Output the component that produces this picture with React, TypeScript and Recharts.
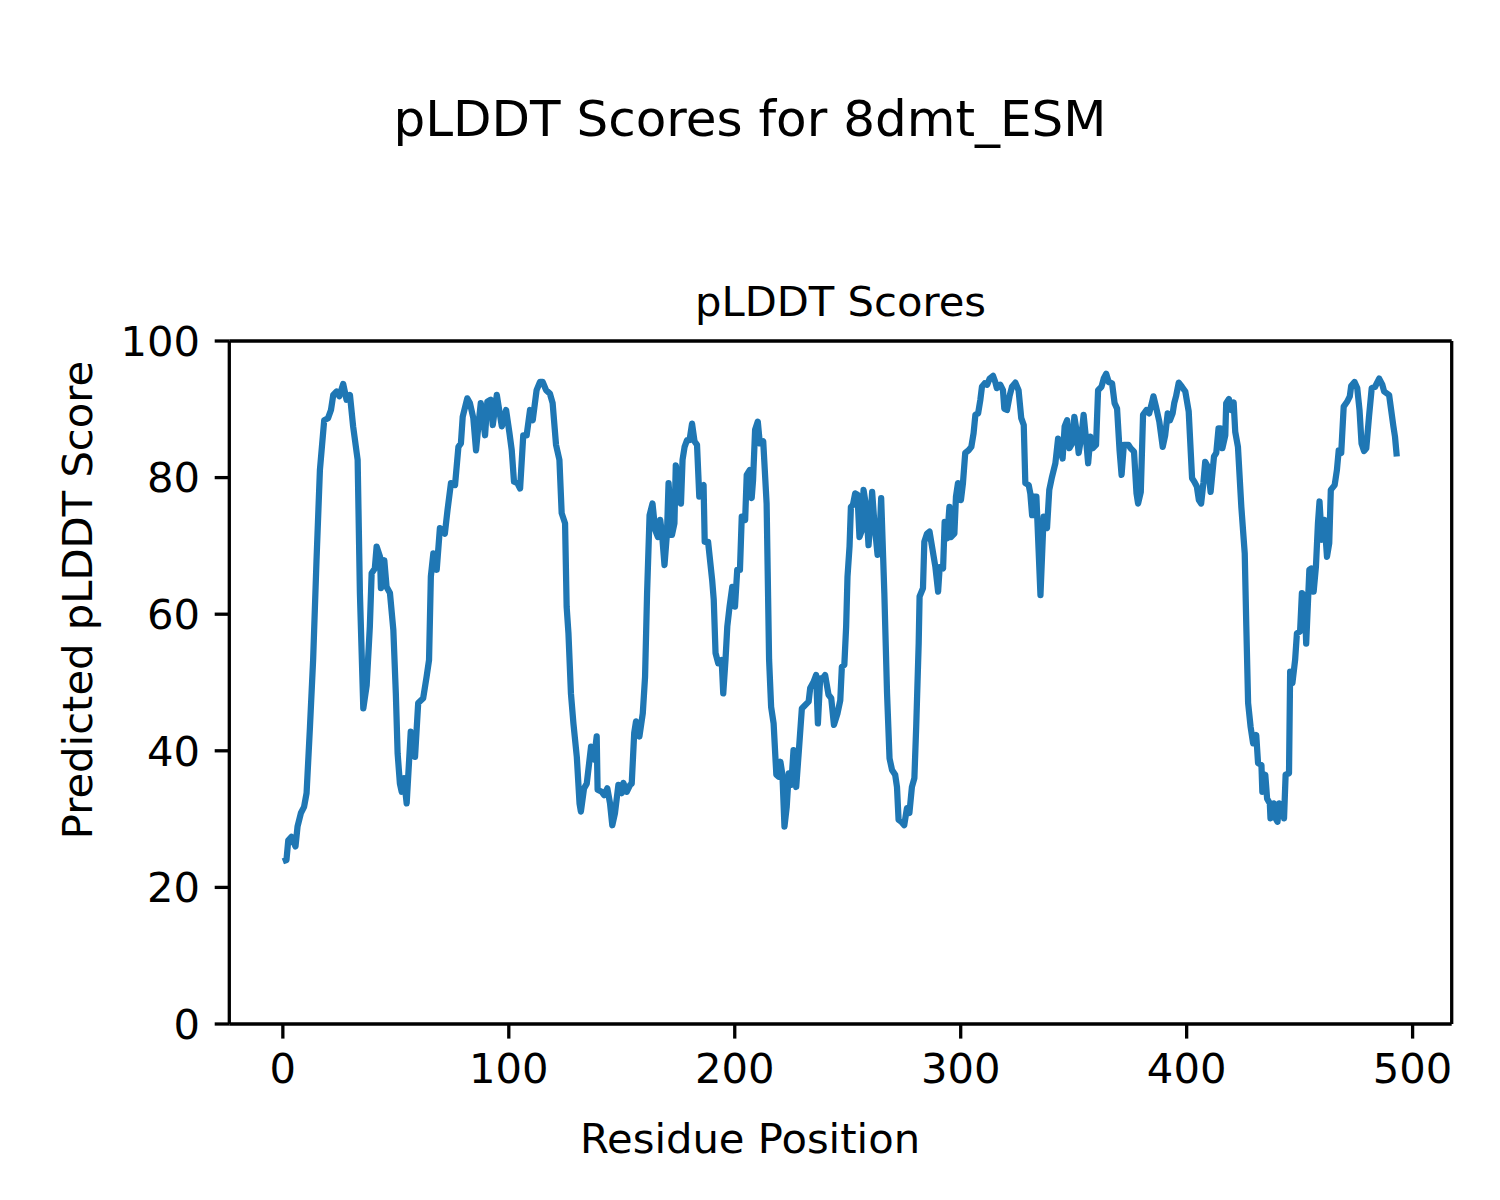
import React from 'react';
import { LineChart, Line, XAxis, YAxis, ReferenceLine } from 'recharts';

// residue positions and pLDDT scores
const residues = [
  0.0, 1.6, 2.4, 3.8, 5.6, 6.5, 8.0, 9.4, 10.5, 12.0, 13.4, 14.9, 16.4, 18.3, 20.0, 21.3, 22.3, 23.8, 25.0, 26.7,
  28.2, 29.7, 31.1, 33.1, 34.1, 35.6, 37.1, 38.5, 39.3, 40.7, 41.5, 43.0, 43.4, 44.9, 45.9, 47.4, 48.9, 50.0, 50.8, 51.8,
  52.6, 53.6, 54.8, 56.6, 58.5, 59.9, 62.1, 63.6, 64.7, 65.5, 66.6, 68.1, 69.5, 71.7, 72.9, 74.4, 76.2, 77.7, 78.8, 79.6,
  81.6, 82.8, 84.3, 85.5, 86.5, 87.6, 89.5, 90.5, 92.0, 92.9, 94.7, 96.9, 98.8, 100.3, 101.3, 102.3, 103.8, 105.0, 106.4, 107.9,
  109.4, 110.6, 112.3, 113.8, 115.0, 116.5, 118.2, 119.4, 120.9, 122.4, 123.4, 124.9, 125.6, 126.4, 127.5, 128.6, 130.1, 131.3, 131.9, 133.3,
  134.5, 136.4, 137.7, 138.9, 139.3, 141.1, 142.2, 143.6, 144.8, 145.8, 147.0, 148.5, 150.0, 150.7, 152.2, 153.7, 154.4, 155.5, 156.3, 157.8,
  159.3, 160.3, 161.2, 162.3, 163.6, 164.8, 166.0, 167.0, 167.8, 168.9, 170.0, 170.7, 172.2, 173.3, 173.9, 175.1, 176.2, 176.9, 177.8, 178.9,
  180.0, 181.1, 182.2, 183.3, 184.3, 185.2, 186.2, 186.7, 188.2, 190.0, 190.7, 191.5, 192.7, 194.2, 194.9, 195.9, 196.7, 197.7, 198.9, 200.1,
  201.1, 202.3, 203.1, 204.6, 205.3, 206.6, 207.5, 208.1, 209.0, 210.2, 211.1, 212.6, 214.1, 215.2, 216.1, 217.2, 218.4, 219.4, 220.2, 221.1,
  222.0, 223.0, 223.9, 225.0, 226.0, 227.2, 228.5, 229.7, 231.2, 232.7, 233.4, 234.9, 236.0, 236.8, 237.8, 238.9, 240.0, 241.5, 242.7, 243.9,
  245.5, 246.7, 247.4, 248.5, 249.3, 249.9, 250.8, 251.4, 252.3, 253.3, 254.3, 255.2, 256.3, 257.0, 258.2, 259.2, 260.0, 260.8, 261.7, 263.2,
  264.1, 264.8, 266.2, 267.4, 268.5, 269.6, 271.0, 271.8, 272.5, 273.7, 275.0, 276.2, 277.3, 278.4, 279.5, 280.3, 281.4, 281.8, 283.3, 283.9,
  285.1, 286.2, 287.3, 288.8, 290.0, 290.7, 292.2, 292.9, 294.0, 295.0, 295.7, 297.2, 297.9, 298.8, 300.1, 301.0, 302.0, 303.5, 304.7, 305.7,
  306.5, 307.7, 308.7, 309.4, 310.6, 311.7, 312.8, 314.3, 315.3, 316.0, 317.5, 318.7, 319.3, 320.5, 321.6, 322.7, 324.2, 325.6, 326.8, 327.9,
  328.6, 330.1, 330.8, 331.6, 332.3, 333.5, 335.3, 336.7, 338.2, 339.2, 340.4, 341.9, 343.1, 344.1, 345.1, 346.0, 347.1, 348.1, 349.3, 350.3,
  351.2, 352.2, 353.4, 354.4, 355.5, 356.4, 357.4, 358.4, 359.9, 360.8, 362.3, 363.3, 364.4, 365.5, 367.0, 368.1, 369.2, 370.3, 371.2, 372.2,
  374.2, 375.2, 376.7, 377.8, 378.5, 379.7, 380.7, 382.2, 383.4, 384.6, 385.3, 386.4, 387.9, 389.4, 390.5, 391.6, 392.6, 393.8, 394.5, 395.3,
  396.5, 397.9, 399.4, 400.9, 402.4, 403.4, 404.5, 405.4, 406.4, 407.4, 408.2, 409.4, 410.6, 412.1, 413.1, 414.1, 415.0, 415.8, 417.1, 417.5,
  418.7, 419.7, 420.8, 421.5, 422.7, 424.2, 425.7, 426.4, 427.2, 428.3, 429.4, 430.8, 431.6, 433.1, 433.5, 434.8, 435.6, 436.8, 437.1, 438.6,
  439.4, 440.2, 441.0, 442.0, 443.1, 443.8, 445.3, 445.8, 446.8, 448.0, 448.8, 450.2, 451.0, 452.2, 452.9, 454.3, 455.1, 456.2, 457.2, 458.1,
  458.8, 459.8, 461.0, 462.1, 463.1, 463.8, 465.5, 466.5, 467.3, 468.4, 469.5, 471.0, 472.2, 472.8, 474.3, 475.5, 476.5, 477.4, 478.5, 479.5,
  480.7, 481.9, 483.4, 485.2, 486.6, 487.4, 489.6, 491.5, 492.2, 493.0,
];

const scores = [
  23.8, 24.0, 26.9, 27.4, 26.0, 28.9, 30.9, 31.8, 33.8, 43.5, 53.3, 67.9, 81.1, 88.4, 88.7, 89.9, 92.1, 92.6, 91.9, 93.7,
  91.4, 92.1, 87.5, 82.6, 63.1, 46.2, 49.6, 58.2, 66.0, 66.7, 69.9, 68.4, 63.8, 67.9, 64.0, 63.1, 57.7, 48.4, 39.6, 35.2,
  34.0, 36.0, 32.3, 42.8, 39.1, 47.0, 47.7, 50.8, 53.3, 65.5, 68.9, 66.5, 72.6, 71.8, 75.3, 79.2, 78.9, 84.5, 85.0, 88.9,
  91.6, 90.9, 88.7, 84.0, 87.5, 90.9, 86.2, 91.1, 91.4, 87.7, 92.1, 87.5, 89.9, 86.5, 84.0, 79.4, 79.2, 78.4, 86.2, 86.2,
  89.9, 88.4, 92.8, 94.0, 94.0, 92.8, 92.3, 90.9, 84.8, 82.6, 74.8, 73.3, 61.1, 57.2, 48.4, 44.0, 39.1, 32.3, 31.1, 34.5,
  35.2, 40.6, 38.7, 42.1, 34.3, 34.0, 33.5, 34.5, 32.3, 29.1, 30.9, 35.0, 33.8, 35.3, 34.0, 35.0, 35.2, 42.6, 44.3, 42.1,
  45.5, 50.8, 63.1, 74.5, 76.2, 72.3, 71.3, 73.8, 71.8, 67.2, 71.8, 79.2, 71.6, 73.3, 81.8, 79.2, 76.2, 82.6, 84.5, 85.5,
  85.5, 87.9, 85.3, 84.8, 77.2, 78.7, 78.9, 70.6, 70.6, 65.0, 62.1, 54.3, 52.8, 53.3, 48.4, 53.3, 58.2, 61.1, 64.0, 61.1,
  66.5, 66.5, 74.3, 73.8, 80.4, 81.1, 77.0, 79.6, 87.0, 88.2, 85.0, 85.3, 76.2, 53.3, 46.4, 44.0, 36.5, 36.2, 38.4, 36.5,
  28.9, 31.8, 36.7, 35.0, 40.1, 34.7, 40.6, 46.2, 46.7, 47.2, 49.2, 50.1, 51.1, 44.0, 50.6, 50.6, 51.1, 48.2, 47.7, 43.8,
  45.5, 47.4, 52.3, 52.6, 58.2, 65.5, 69.9, 75.7, 76.0, 77.7, 77.5, 71.3, 72.3, 78.2, 75.7, 70.1, 73.3, 77.9, 73.8, 68.7,
  71.3, 77.0, 63.1, 48.4, 38.9, 37.2, 36.5, 34.7, 29.9, 29.6, 29.1, 31.6, 30.9, 34.7, 36.0, 43.5, 55.7, 62.6, 63.8, 70.6,
  71.8, 72.1, 69.9, 66.9, 63.3, 66.9, 66.7, 73.5, 71.1, 75.7, 71.3, 71.8, 77.2, 79.2, 76.7, 79.2, 83.6, 84.0, 84.5, 86.5,
  89.2, 89.4, 91.4, 93.3, 93.8, 93.6, 94.5, 94.9, 94.0, 93.1, 93.6, 92.8, 90.1, 89.9, 91.9, 93.3, 93.9, 92.8, 88.7, 87.7,
  79.2, 78.9, 77.7, 74.5, 77.2, 77.2, 62.8, 74.3, 72.6, 78.2, 80.1, 82.1, 85.7, 84.3, 82.8, 87.5, 88.4, 84.3, 85.0, 88.9,
  87.0, 83.6, 86.0, 89.2, 85.5, 82.1, 86.0, 84.3, 84.8, 92.8, 93.3, 94.5, 95.2, 94.0, 93.8, 90.9, 90.1, 84.0, 80.4, 84.8,
  84.8, 84.3, 83.8, 77.7, 76.2, 77.9, 89.2, 89.9, 89.4, 90.9, 91.9, 90.4, 88.2, 84.5, 86.2, 89.4, 88.4, 89.4, 90.9, 91.9,
  93.9, 93.3, 92.6, 89.7, 79.9, 79.4, 78.7, 76.7, 76.2, 79.2, 82.3, 81.6, 77.9, 83.1, 83.6, 87.2, 87.2, 84.3, 86.2, 90.9,
  91.5, 89.9, 91.0, 86.7, 84.5, 75.7, 68.9, 58.2, 47.0, 43.5, 41.1, 42.3, 38.2, 37.9, 34.0, 36.5, 33.0, 32.3, 30.1, 32.3,
  30.1, 29.6, 32.3, 32.1, 30.1, 36.5, 36.7, 51.6, 49.9, 53.3, 57.2, 57.5, 63.1, 62.6, 55.7, 66.5, 66.7, 63.3, 66.9, 73.3,
  76.5, 70.9, 73.8, 68.4, 70.4, 78.2, 78.9, 81.1, 84.0, 83.6, 90.4, 91.1, 91.9, 93.4, 94.0, 93.1, 89.9, 85.0, 83.9, 84.3,
  88.9, 93.1, 93.3, 94.5, 93.6, 92.6, 92.1, 87.5, 86.0, 83.1,
];

const xTicks = [0, 100, 200, 300, 400, 500];
const yTicks = [0, 20, 40, 60, 80, 100];

const chartData = residues.map((r, i) => ({ residue: r, score: scores[i] }));

const FONT = 'DejaVu Sans';
const LW = 3.3;

const App: React.FC = () => {
  const tickStyle = { fill: '#000', fontSize: 41.7, fontFamily: FONT };

  return (
    <div style={{ position: 'absolute', left: 0, top: 0, width: 1500, height: 1200, background: '#fff' }}>
      <LineChart
        width={1500}
        height={1200}
        data={chartData}
        margin={{ top: 341, right: 48.3, bottom: 116, left: 129.3 }}
      >
        <XAxis
          dataKey="residue"
          type="number"
          domain={[-23.7, 517.3]}
          ticks={xTicks}
          allowDataOverflow
          height={60}
          axisLine={{ stroke: '#000', strokeWidth: LW }}
          tickLine={{ stroke: '#000', strokeWidth: LW }}
          tickSize={14.6}
          tickMargin={15}
          tick={tickStyle}
        />
        <YAxis
          type="number"
          domain={[0, 100]}
          ticks={yTicks}
          allowDataOverflow
          width={100}
          axisLine={{ stroke: '#000', strokeWidth: LW }}
          tickLine={{ stroke: '#000', strokeWidth: LW }}
          tickSize={14.6}
          tickMargin={14.6}
          tick={tickStyle}
        />
        <Line
          type="linear"
          dataKey="score"
          stroke="#1f77b4"
          strokeWidth={6.25}
          strokeLinejoin="round"
          dot={false}
          isAnimationActive={false}
        />
        {/* top and right spines */}
        <ReferenceLine y={100} stroke="#000" strokeWidth={LW} />
        <ReferenceLine x={517.3} stroke="#000" strokeWidth={LW} />
      </LineChart>
      <svg
        width={1500}
        height={1200}
        style={{ position: 'absolute', left: 0, top: 0, pointerEvents: 'none' }}
        fontFamily={FONT}
      >
        <text x={750} y={136} fontSize={50} textAnchor="middle" fill="#000">
          pLDDT Scores for 8dmt_ESM
        </text>
        <text x={840.5} y={316} fontSize={41.7} textAnchor="middle" fill="#000">
          pLDDT Scores
        </text>
        <text x={750} y={1153} fontSize={41.7} textAnchor="middle" fill="#000">
          Residue Position
        </text>
        <text
          x={92}
          y={600}
          fontSize={41.7}
          textAnchor="middle"
          fill="#000"
          transform="rotate(-90, 92, 600)"
        >
          Predicted pLDDT Score
        </text>
      </svg>
    </div>
  );
};

export default App;
